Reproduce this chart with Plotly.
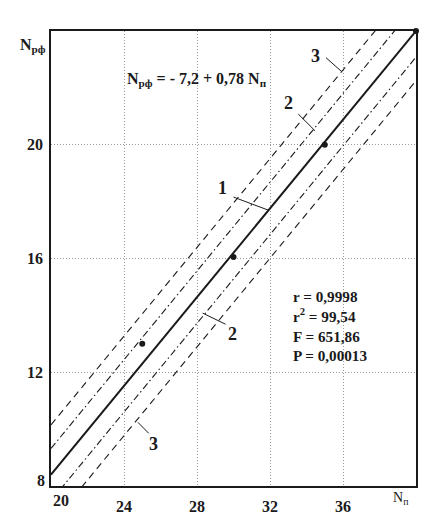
import plotly.graph_objects as go

# ---- data ----
x_ends = [20, 40]
fit_line = [8.4, 24.0]              # 1: Nрф = -7.2 + 0.78 Nп
conf_upper = [9.32, 24.92]          # 2: dash-dot
conf_lower = [7.48, 23.08]
pred_upper = [10.15, 25.75]         # 3: dashed
pred_lower = [6.65, 22.25]

obs_x = [25, 30, 35, 40]
obs_y = [13.0, 16.05, 20.0, 24.0]

x_tick_vals = [20, 24, 28, 32, 36]
y_tick_vals = [8, 12, 16, 20]

equation = "N<sub>рф</sub> = - 7,2 + 0,78 N<sub>п</sub>"
stats = ["r = 0,9998", "r<sup>2</sup> = 99,54", "F = 651,86", "P = 0,00013"]

FONT = "Liberation Serif"
INK = "#1a1a1a"

fig = go.Figure()

def add_line(y, dash, width):
    fig.add_trace(go.Scatter(x=x_ends, y=y, mode="lines",
                             line=dict(color=INK, width=width, dash=dash),
                             hoverinfo="skip", showlegend=False))

add_line(pred_upper, "7px,5px", 1.1)
add_line(pred_lower, "7px,5px", 1.1)
add_line(conf_upper, "7px,3px,1.5px,3px", 1.1)
add_line(conf_lower, "7px,3px,1.5px,3px", 1.1)
add_line(fit_line, "solid", 2)

fig.add_trace(go.Scatter(x=obs_x, y=obs_y, mode="markers",
                         marker=dict(color=INK, size=6),
                         cliponaxis=False, hoverinfo="skip", showlegend=False))

ann = []
def txt(x, y, text, size=16, xanchor="center", yanchor="middle", xref="x", yref="y",
        align="center"):
    ann.append(dict(x=x, y=y, xref=xref, yref=yref, text=text, showarrow=False,
                    xanchor=xanchor, yanchor=yanchor, align=align,
                    font=dict(family=FONT, size=size, color=INK)))

# edge tick labels (offset like in the original)
txt(x_tick_vals[0], -0.031, "<b>%d</b>" % x_tick_vals[0], size=16, xanchor="left", yref="paper")
txt(-0.012, 0.011, "<b>%d</b>" % y_tick_vals[0], size=16, xanchor="right",
    xref="paper", yref="paper")

# axis titles
txt(-0.049, 0.969, "<b>N<sub>рф</sub></b>", size=16, xref="paper", yref="paper")
txt(39.2, -0.028, "N<sub>п</sub>", size=14, yref="paper")

# equation and stats
txt(24.05, 22.3, "<b>" + equation + "</b>", size=16, xanchor="left")
txt(33.15, 13.62, "<br>".join("<b>" + s + "</b>" for s in stats), size=15.2,
    xanchor="left", align="left")

# curve labels
labels = [("1", 29.4, 18.48), ("2", 33.0, 21.47), ("2", 29.95, 13.34),
          ("3", 34.47, 23.13), ("3", 25.64, 9.46)]
for t, xx, yy in labels:
    txt(xx, yy, "<b>" + t + "</b>", size=18)

leaders = [((30.0, 18.16), (31.91, 17.70)),
           ((33.55, 21.08), (34.47, 20.49)),
           ((28.31, 14.08), (29.56, 13.69)),
           ((35.07, 23.06), (35.95, 22.56)),
           ((24.76, 10.24), (25.36, 9.85))]
shapes = []
for (x0, y0), (x1, y1) in leaders:
    shapes.append(dict(type="line", x0=x0, y0=y0, x1=x1, y1=y1, xref="x", yref="y",
                       line=dict(color=INK, width=1)))

GRID = dict(showgrid=True, gridcolor="#9a9a9a", griddash="1px,2px", gridwidth=1,
            showline=True, linecolor=INK, linewidth=1.6, mirror=True,
            zeroline=False, fixedrange=True, automargin=False)

fig.update_layout(
    width=439, height=509,
    margin=dict(l=43, r=31, t=23, b=31, autoexpand=False),
    paper_bgcolor="white", plot_bgcolor="white",
    annotations=ann, shapes=shapes,
    font=dict(family=FONT, color=INK),
    xaxis=dict(range=[20, 40], tickvals=x_tick_vals[1:],
               ticktext=["<b>%d</b>" % v for v in x_tick_vals[1:]],
               tickfont=dict(family=FONT, size=16, color=INK),
               ticks="outside", ticklen=5, tickcolor="rgba(0,0,0,0)", **GRID),
    yaxis=dict(range=[8, 24], tickvals=y_tick_vals[1:],
               ticktext=["<b>%d</b>" % v for v in y_tick_vals[1:]],
               tickfont=dict(family=FONT, size=16, color=INK),
               ticks="outside", ticklen=3, tickcolor="rgba(0,0,0,0)", **GRID),
)

fig.write_html("out.html")
